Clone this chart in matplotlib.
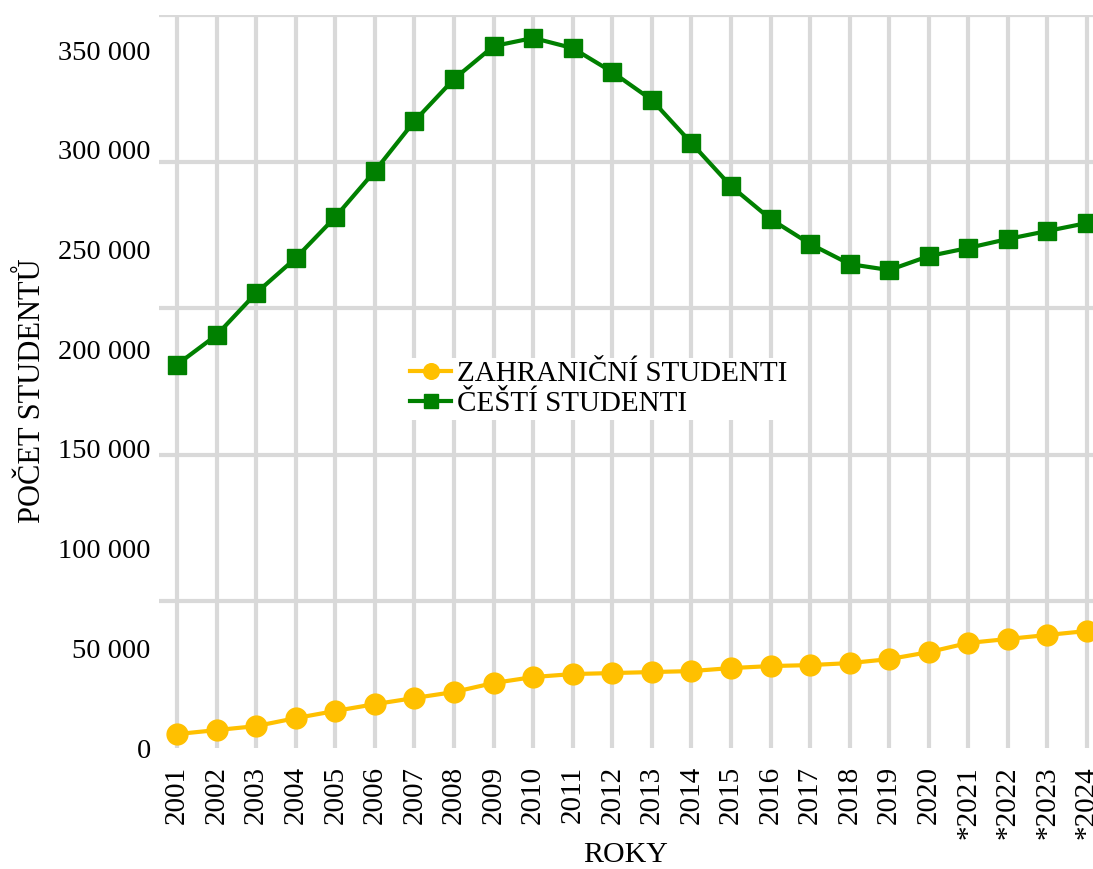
import numpy as np
import matplotlib
matplotlib.use("Agg")
import matplotlib.pyplot as plt

plt.rcParams["font.family"] = ["Liberation Serif", "DejaVu Serif"]

# data
years = ["2001", "2002", "2003", "2004", "2005", "2006", "2007", "2008",
         "2009", "2010", "2011", "2012", "2013", "2014", "2015", "2016",
         "2017", "2018", "2019", "2020", "*2021", "*2022", "*2023", "*2024"]

foreign_students = [7000, 9000, 11000, 15000, 18600, 22000, 25100, 28100,
                    32600, 35600, 37100, 37600, 38100, 38600, 40100, 41100,
                    41600, 42600, 44600, 48100, 52700, 54700, 56700, 58700]

czech_students = [192300, 207100, 228200, 245700, 266300, 289400, 314400, 335500,
                  352000, 356100, 351000, 339000, 325000, 303400, 281800, 265300,
                  252800, 242700, 239700, 246700, 250800, 255300, 259300, 263300]

y_ticks = [0, 50000, 100000, 150000, 200000, 250000, 300000, 350000]
y_max = 367600

fig = plt.figure(figsize=(10.93, 8.69), dpi=100)
ax = fig.add_axes([0.1455, 0.1392, 0.8545, 0.8435])

x = np.arange(len(years))

ax.plot(x, foreign_students, color="#FFC000", linewidth=3, marker="o",
        markersize=15, label="ZAHRANIČNÍ STUDENTI", zorder=3, clip_on=False)
ax.plot(x, czech_students, color="#008000", linewidth=3, marker="s",
        markersize=13, label="ČEŠTÍ STUDENTI", zorder=3, clip_on=False)

ax.set_xlim(-0.455, len(years) - 1 + 0.15)
ax.set_ylim(0, y_max)

ax.set_xticks(x)
ax.set_xticklabels(years, rotation=90, fontsize=21)
ax.set_yticks(y_ticks)
ax.set_yticklabels([f"{v:,}".replace(",", " ") for v in y_ticks], fontsize=20.5)

# horizontal grid splits the axis into five equal bands
ax.set_yticks(np.linspace(0, y_max, 6), minor=True)
ax.tick_params(axis="both", which="both", length=0)
ax.tick_params(axis="x", pad=13)
ax.tick_params(axis="y", pad=6)
ax.grid(True, axis="x", which="major", color="#d9d9d9", linewidth=3)
ax.grid(True, axis="y", which="minor", color="#d9d9d9", linewidth=3)
ax.set_axisbelow(True)

for s in ax.spines.values():
    s.set_visible(False)

ax.set_xlabel("ROKY", fontsize=21.5)
ax.xaxis.set_label_coords(0.5, -0.128)
ax.set_ylabel("POČET STUDENTŮ", fontsize=22)
ax.yaxis.set_label_coords(-0.12, 0.487)

leg = ax.legend(loc="upper left", bbox_to_anchor=(0.266, 0.532), fontsize=21,
                frameon=True, facecolor="white", edgecolor="none", framealpha=1,
                fancybox=False, borderpad=0.1, borderaxespad=0, handlelength=1.4,
                handletextpad=0.2, labelspacing=0.1, markerscale=0.75)

fig.savefig("out.png", dpi=100)
